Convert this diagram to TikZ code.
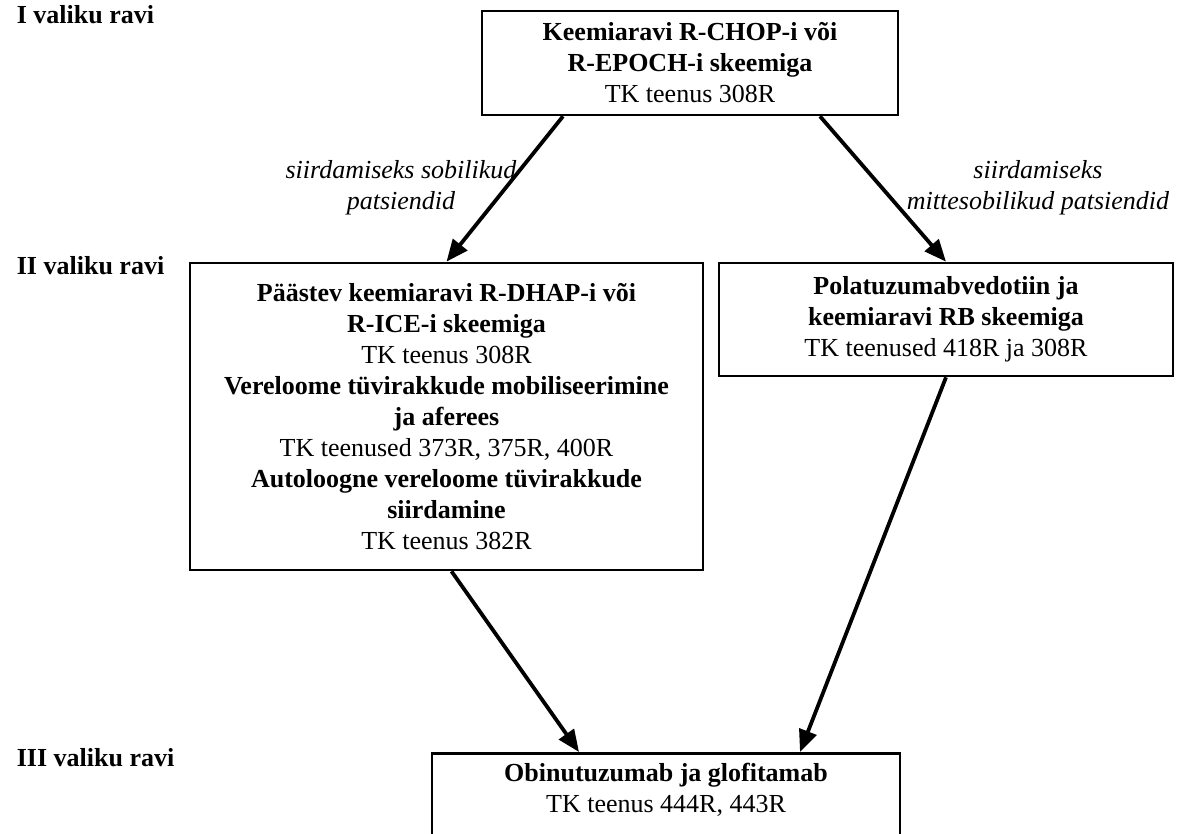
\documentclass[tikz,border=0pt]{standalone}
\usepackage{fontspec}
\setmainfont{Liberation Serif}
\usetikzlibrary{arrows.meta}

\begin{document}
\begin{tikzpicture}[x=1pt,y=-1pt,
    box/.style={draw,line width=2.6pt,align=center,inner sep=0pt},
    lvl/.style={anchor=base west,font=\bfseries},
    note/.style={anchor=base,align=center,font=\itshape},
    arr/.style={line width=3.8pt,-{Triangle[length=22pt,width=18pt]}}]
    \fontsize{26}{31}\selectfont
    \useasboundingbox (0,0) rectangle (1179,834);
    \clip (0,0) rectangle (1179,834);
    % levels
    \node[lvl] (l1) at (8,24) {I valiku ravi};
    \node[lvl] (l2) at (8,275) {II valiku ravi};
    \node[lvl] (l3) at (8,766) {III valiku ravi};
    % boxes
    \node[box,minimum width=416pt,minimum height=104pt] (top) at (690,63)
        {\textbf{Keemiaravi R-CHOP-i või}\\ \textbf{R-EPOCH-i skeemiga}\\ TK teenus 308R};
    \node[box,minimum width=513pt,minimum height=307pt] (left) at (446.5,416.5)
        {\textbf{Päästev keemiaravi R-DHAP-i või}\\ \textbf{R-ICE-i skeemiga}\\ TK teenus 308R\\
         \textbf{Vereloome tüvirakkude mobiliseerimine}\\ \textbf{ja aferees}\\ TK teenused 373R, 375R, 400R\\
         \textbf{Autoloogne vereloome tüvirakkude}\\ \textbf{siirdamine}\\ TK teenus 382R};
    \node[box,minimum width=454pt,minimum height=113pt] (right) at (946,319.5)
        {\textbf{Polatuzumabvedotiin ja}\\ \textbf{keemiaravi RB skeemiga}\\ TK teenused 418R ja 308R};
    \node[box,minimum width=468pt,anchor=north,inner ysep=10pt] (bot) at (666,752)
        {\textbf{Obinutuzumab ja glofitamab}\\ TK teenus 444R, 443R\rule[-90pt]{0pt}{90pt}};
    % notes
    \node[note] (n1) at (401,210) {siirdamiseks sobilikud\\ patsiendid};
    \node[note] (n2) at (1038,210) {siirdamiseks\\ mittesobilikud patsiendid};
    % arrows
    \draw[arr] ([xshift=-127pt]top.south) -- (left.north);
    \draw[arr] ([xshift=130pt]top.south) -- (right.north);
    \draw[arr] ([xshift=5pt]left.south) -- ([xshift=-87pt]bot.north);
    \draw[arr] (right.south) -- ([xshift=134pt]bot.north);
\end{tikzpicture}
\end{document}
